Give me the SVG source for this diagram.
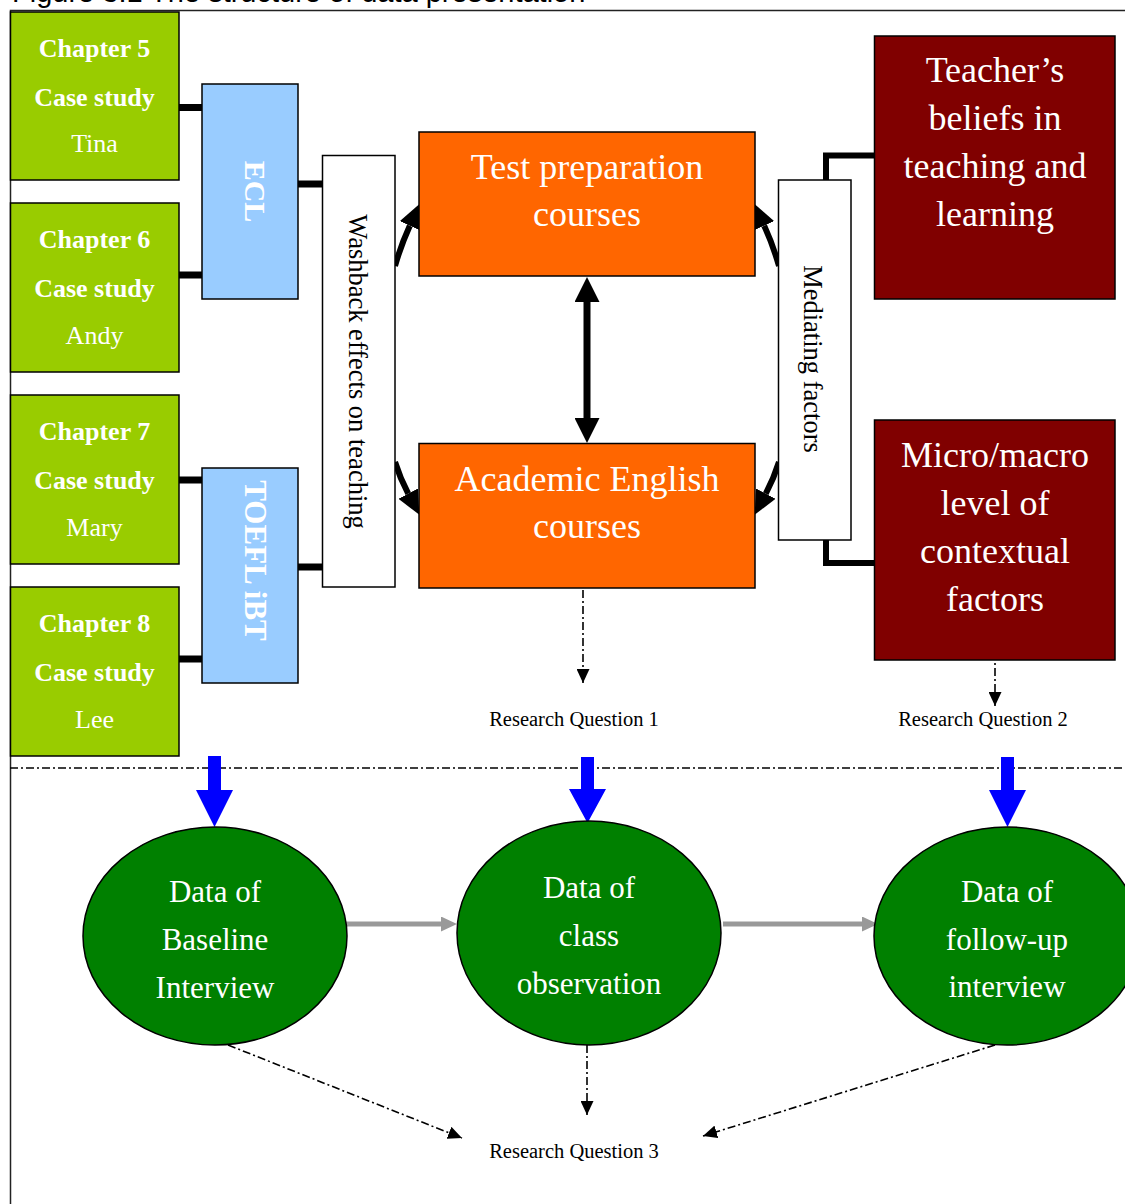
<svg xmlns="http://www.w3.org/2000/svg" width="1125" height="1204" viewBox="0 0 1125 1204">
<style>
.serif{font-family:"Liberation Serif","Times New Roman",serif}
.wt{fill:#fff;text-anchor:middle}
.ch{font-size:26px;font-weight:bold}
.nm{font-size:26px}
.big{font-size:36px}
.ell{font-size:31px}
.rot{font-size:26.5px;fill:#000;text-anchor:middle}
.rq{font-size:20.5px;fill:#000;text-anchor:middle}
.box{stroke:#000;stroke-width:1.5}
.green{fill:#99CC00}
.blue{fill:#99CCFF}
.orange{fill:#FF6600}
.red{fill:#800000}
.white{fill:#fff}
.thick{stroke:#000;stroke-width:7;fill:none}
.thk{stroke:#000;stroke-width:6;fill:none}
.dd{stroke:#000;stroke-width:1.6;fill:none;stroke-dasharray:8 3 2 3}
.gray{stroke:#999;stroke-width:5;fill:none}
.bluearrow{fill:#0000FF}
.oval{fill:#008000;stroke:#000;stroke-width:1.5}
</style>
<defs>
<marker id="bigHead" viewBox="0 0 25 25" refX="0" refY="12.5" markerWidth="25" markerHeight="25" markerUnits="userSpaceOnUse" orient="auto-start-reverse"><path d="M0,0 L25,12.5 L0,25 z" fill="#000"/></marker>
<marker id="curveHead" viewBox="0 0 24 22" refX="0" refY="11" markerWidth="24" markerHeight="22" markerUnits="userSpaceOnUse" orient="auto"><path d="M0,0 L24,11 L0,22 z" fill="#000"/></marker>
<marker id="smallHead" viewBox="0 0 14 13" refX="14" refY="6.5" markerWidth="14" markerHeight="13" markerUnits="userSpaceOnUse" orient="auto"><path d="M0,0 L14,6.5 L0,13 z" fill="#000"/></marker>
<marker id="grayHead" viewBox="0 0 16 15" refX="0" refY="7.5" markerWidth="16" markerHeight="15" markerUnits="userSpaceOnUse" orient="auto"><path d="M0,0 L16,7.5 L0,15 z" fill="#999"/></marker>
</defs>

<text x="12" y="2" font-family="'Liberation Sans',Arial,sans-serif" font-size="29" fill="#000">Figure 3.1 The structure of data presentation</text>
<path d="M10.5,1204 V10.5 H1125" fill="none" stroke="#222" stroke-width="1.5"/>

<g id="connectors">
<path class="thick" d="M179,107.5 H202 M179,275 H202 M298,184 H322 M179,480 H202 M179,659 H202 M298,567 H322"/>
<path class="thk" d="M826,180 V155.5 H874 M826,540 V563 H874"/>
<line class="thick" x1="587" y1="302" x2="587" y2="418" marker-start="url(#bigHead)" marker-end="url(#bigHead)"/>
<path class="thk" d="M395,266 Q401,245 409.8,225.7" marker-end="url(#curveHead)"/>
<path class="thk" d="M395,462 Q400,478 408.2,493.6" marker-end="url(#curveHead)"/>
<path class="thk" d="M779,266 Q773,245 764.2,225.7" marker-end="url(#curveHead)"/>
<path class="thk" d="M779,462 Q774,478 765.8,493.6" marker-end="url(#curveHead)"/>
<line class="dd" x1="583" y1="590" x2="583" y2="683" marker-end="url(#smallHead)"/>
<line class="dd" x1="995" y1="652" x2="995" y2="706" marker-end="url(#smallHead)"/>
<line class="dd" x1="10" y1="768" x2="1125" y2="768" stroke-width="2"/>
<path class="bluearrow" d="M208,756 H221 V790 H233 L214.5,827 L196,790 H208 z"/>
<path class="bluearrow" d="M581,757 H594 V789 H606 L587.5,823 L569,789 H581 z"/>
<path class="bluearrow" d="M1001,757 H1014 V790 H1026 L1007.5,827 L989,790 H1001 z"/>
<line class="gray" x1="343" y1="924" x2="441" y2="924" marker-end="url(#grayHead)"/>
<line class="gray" x1="723" y1="924" x2="862" y2="924" marker-end="url(#grayHead)"/>
<line class="dd" x1="228" y1="1045" x2="462" y2="1138" marker-end="url(#smallHead)"/>
<line class="dd" x1="587" y1="1045" x2="587" y2="1115" marker-end="url(#smallHead)"/>
<line class="dd" x1="995" y1="1045" x2="703" y2="1136" marker-end="url(#smallHead)"/>
</g>

<g id="ch5" class="serif">
<rect class="box green" x="10.5" y="12" width="168.5" height="168"/>
<text class="wt ch" x="94.5" y="57">Chapter 5</text>
<text class="wt ch" x="94.5" y="106">Case study</text>
<text class="wt nm" x="94.5" y="152">Tina</text>
</g>
<g id="ch6" class="serif">
<rect class="box green" x="10.5" y="203" width="168.5" height="169"/>
<text class="wt ch" x="94.5" y="248">Chapter 6</text>
<text class="wt ch" x="94.5" y="297">Case study</text>
<text class="wt nm" x="94.5" y="344">Andy</text>
</g>
<g id="ch7" class="serif">
<rect class="box green" x="10.5" y="395" width="168.5" height="169"/>
<text class="wt ch" x="94.5" y="440">Chapter 7</text>
<text class="wt ch" x="94.5" y="489">Case study</text>
<text class="wt nm" x="94.5" y="536">Mary</text>
</g>
<g id="ch8" class="serif">
<rect class="box green" x="10.5" y="587" width="168.5" height="169"/>
<text class="wt ch" x="94.5" y="632">Chapter 8</text>
<text class="wt ch" x="94.5" y="681">Case study</text>
<text class="wt nm" x="94.5" y="728">Lee</text>
</g>

<g id="ecl" class="serif">
<rect class="box blue" x="202" y="84" width="96" height="215"/>
<text class="wt" font-size="30" font-weight="bold" transform="translate(255,191.5) rotate(90)" y="10">ECL</text>
</g>
<g id="toefl" class="serif">
<rect class="box blue" x="202" y="468" width="96" height="215"/>
<text class="wt" font-size="31" font-weight="bold" transform="translate(255,560.5) rotate(90)" y="10">TOEFL iBT</text>
</g>

<g id="washback" class="serif">
<rect class="box white" x="322.5" y="155.5" width="72.5" height="431.5"/>
<text class="rot" transform="translate(358,371.5) rotate(90)" y="9">Washback effects on teaching</text>
</g>

<g id="testprep" class="serif">
<rect class="box orange" x="419" y="132" width="336" height="144"/>
<text class="wt big" x="587" y="179">Test preparation</text>
<text class="wt big" x="587" y="226">courses</text>
</g>
<g id="academic" class="serif">
<rect class="box orange" x="419" y="443.5" width="336" height="144.5"/>
<text class="wt big" x="587" y="491">Academic English</text>
<text class="wt big" x="587" y="538">courses</text>
</g>

<g id="mediating" class="serif">
<rect class="box white" x="778.5" y="180" width="72.5" height="360"/>
<text class="rot" transform="translate(813,359) rotate(90)" y="9">Mediating factors</text>
</g>

<g id="beliefs" class="serif">
<rect class="box red" x="874.5" y="36" width="240.5" height="263"/>
<text class="wt big" x="995" y="82">Teacher’s</text>
<text class="wt big" x="995" y="130">beliefs in</text>
<text class="wt big" x="995" y="178">teaching and</text>
<text class="wt big" x="995" y="226">learning</text>
</g>
<g id="contextual" class="serif">
<rect class="box red" x="874.5" y="420" width="240.5" height="240"/>
<text class="wt big" x="995" y="467">Micro/macro</text>
<text class="wt big" x="995" y="515">level of</text>
<text class="wt big" x="995" y="563">contextual</text>
<text class="wt big" x="995" y="611">factors</text>
</g>

<g id="rq1" class="serif"><text class="rq" x="574" y="726">Research Question 1</text></g>
<g id="rq2" class="serif"><text class="rq" x="983" y="726">Research Question 2</text></g>

<g id="baseline" class="serif">
<ellipse class="oval" cx="215" cy="936" rx="132" ry="109"/>
<text class="wt ell" x="215" y="902">Data of</text>
<text class="wt ell" x="215" y="950">Baseline</text>
<text class="wt ell" x="215" y="998">Interview</text>
</g>
<g id="observation" class="serif">
<ellipse class="oval" cx="589" cy="933" rx="132" ry="112"/>
<text class="wt ell" x="589" y="898">Data of</text>
<text class="wt ell" x="589" y="946">class</text>
<text class="wt ell" x="589" y="994">observation</text>
</g>
<g id="followup" class="serif">
<ellipse class="oval" cx="1007" cy="936" rx="133" ry="109"/>
<text class="wt ell" x="1007" y="902">Data of</text>
<text class="wt ell" x="1007" y="950">follow-up</text>
<text class="wt ell" x="1007" y="997">interview</text>
</g>

<g id="rq3" class="serif"><text class="rq" x="574" y="1158">Research Question 3</text></g>
</svg>
